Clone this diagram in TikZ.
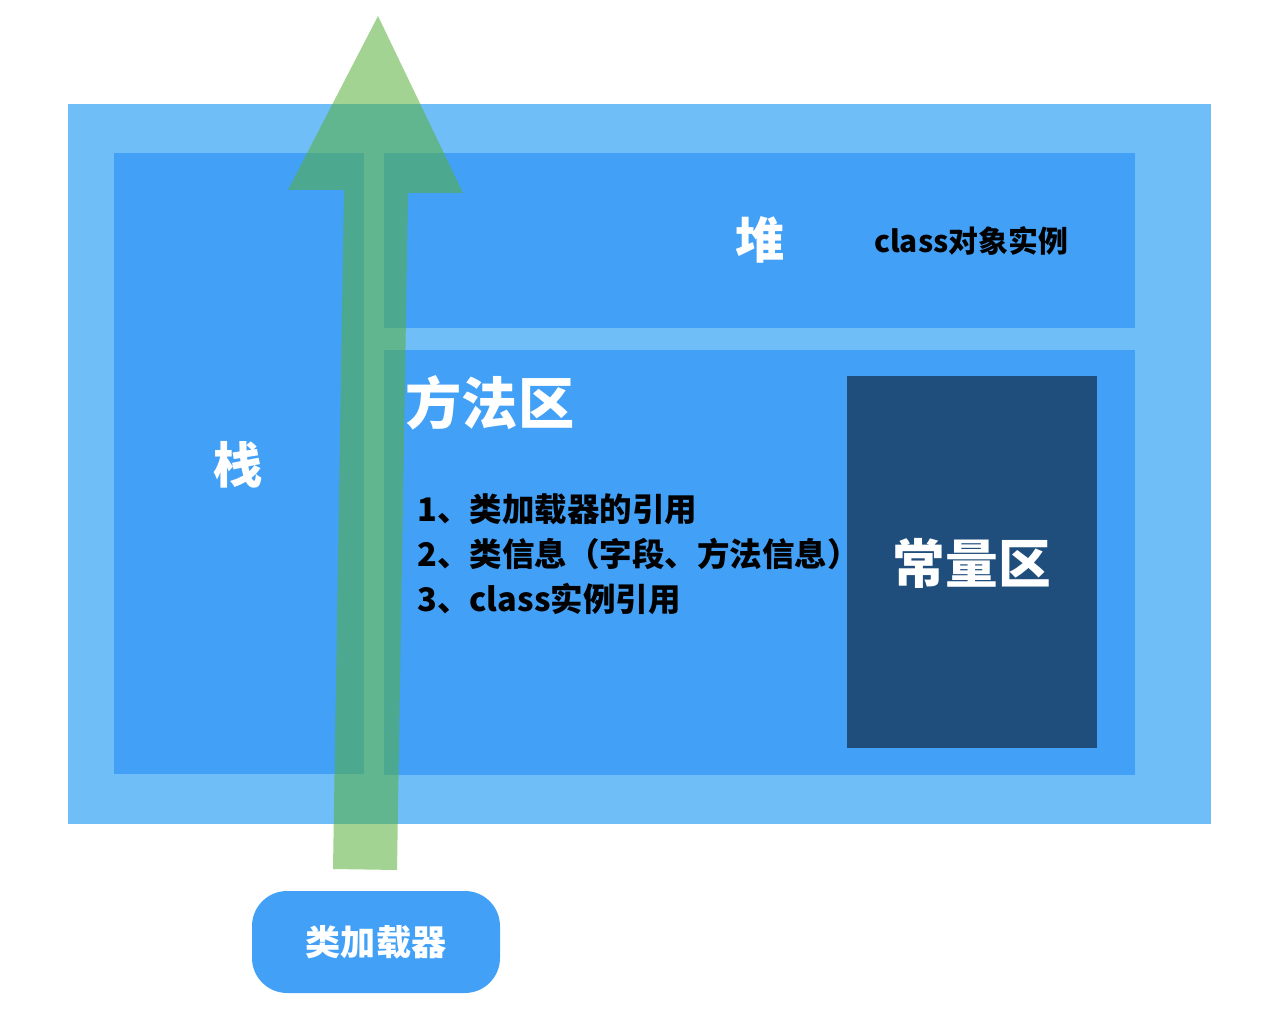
\documentclass[tikz,border=0pt]{standalone}
\usepackage{fontspec}
\setmainfont{Noto Sans CJK SC}
\usetikzlibrary{positioning}
\definecolor{outerblue}{RGB}{112,190,248}
\definecolor{areablue}{RGB}{66,161,247}
\definecolor{darkblue}{RGB}{31,78,125}
\definecolor{arrowgreen}{RGB}{86,175,57}
\tikzset{
	area/.style={fill=areablue,draw=none},
	bigtext/.style={text=white,font=\bfseries\fontsize{28}{32}\selectfont},
	smalltext/.style={text=black,font=\bfseries\fontsize{17}{20}\selectfont}
}

\begin{document}
\begin{tikzpicture}[line cap=round,line join=round,x=0.02cm,y=-0.02cm]
		\useasboundingbox (0,0) rectangle (1274,1016);
		\fill [color=outerblue] (68,104) rectangle (1211,824);
		\fill [area] (114,153) rectangle (364,774);
		\fill [area] (384,153) rectangle (1135,328);
		\fill [area] (384,350) rectangle (1135,775);
		\fill [color=darkblue] (847,376) rectangle (1097,748);
		\node[bigtext] (stack) at (238,465) {栈};
		\node[bigtext] (heap) at (760,240) {堆};
		\node[smalltext] (heapobj) at (971,241) {class对象实例};
		\node[bigtext,font=\bfseries\fontsize{32}{36}\selectfont] (method) at (490,403) {方法区};
		\node[smalltext,font=\bfseries\fontsize{18.5}{25.5}\selectfont,anchor=north west,align=left] (methodlist) at (411,488) {1、类加载器的引用\\2、类信息（字段、方法信息）\\3、class实例引用};
		\node[bigtext,font=\bfseries\fontsize{30}{34}\selectfont] (const) at (972,563) {常量区};
		\node[fill=areablue,rounded corners=20pt,minimum width=248*0.02cm,minimum height=102*0.02cm,text=white,font=\bfseries\fontsize{20}{24}\selectfont] (loader) at (376,942) {类加载器};
		% arrow from the loader up through the areas
		\fill [color=arrowgreen,opacity=0.55] (333,869) -- (344,190) -- (288,190) -- (378,16) -- (463,193) -- (408,193) -- (397,870) -- cycle;
	\end{tikzpicture}
\end{document}
